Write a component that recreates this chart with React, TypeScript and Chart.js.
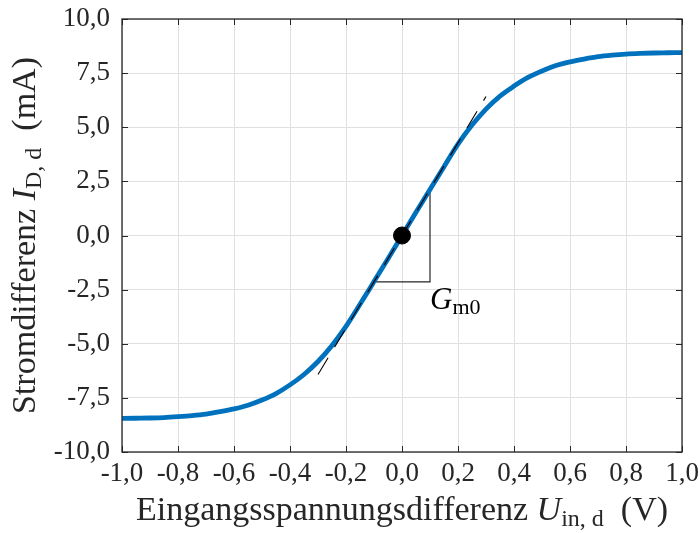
import React, { useEffect, useRef } from "react";
import { Chart, registerables } from "chart.js";

Chart.register(...registerables);

// Data
const U_IN = [
  -1.0, -0.95, -0.9, -0.85, -0.8, -0.75, -0.7, -0.65, -0.6, -0.55, -0.5, -0.45, -0.4, -0.35, -0.3, -0.25, -0.2, -0.15, -0.1, -0.05,
  0.0, 0.05, 0.1, 0.15, 0.2, 0.25, 0.3, 0.35, 0.4, 0.45, 0.5, 0.55, 0.6, 0.65, 0.7, 0.75, 0.8, 0.85, 0.9, 0.95, 1.0,
];
const I_D = [
  -8.45, -8.44, -8.43, -8.41, -8.37, -8.32, -8.25, -8.14, -8.01, -7.84, -7.6, -7.3, -6.9, -6.42, -5.82, -5.08, -4.2, -3.18, -2.13, -1.07,
  0.0, 1.07, 2.13, 3.18, 4.22, 5.1, 5.84, 6.44, 6.9, 7.3, 7.6, 7.85, 8.02, 8.15, 8.26, 8.33, 8.38, 8.41, 8.43, 8.44, 8.45,
];
const TANGENT_X = [-0.3, 0.3];
const TANGENT_Y = [-6.42, 6.42];
const TRIANGLE_X = [-0.1, 0.1, 0.1];
const TRIANGLE_Y = [-2.14, -2.14, 2.14];
const OP_POINT = { x: 0, y: 0 };
const GM_LABEL_POS = { x: 0.1, y: -3.3 };
const X_TICKS = [-1, -0.8, -0.6, -0.4, -0.2, 0, 0.2, 0.4, 0.6, 0.8, 1];
const Y_TICKS = [-10, -7.5, -5, -2.5, 0, 2.5, 5, 7.5, 10];

const SERIF = "'Liberation Serif', 'DejaVu Serif', serif";
const TEXT = "#262626";

const fmt = (v: number) => {
  const n = Math.abs(v) < 1e-9 ? 0 : v;
  return n.toFixed(1).replace(".", ",");
};

type Part = { text: string; font: string; dy?: number };

function drawRich(ctx: CanvasRenderingContext2D, parts: Part[], cx: number, by: number) {
  let total = 0;
  for (const p of parts) {
    ctx.font = p.font;
    total += ctx.measureText(p.text).width;
  }
  let x = cx - total / 2;
  ctx.textAlign = "left";
  ctx.textBaseline = "alphabetic";
  for (const p of parts) {
    ctx.font = p.font;
    ctx.fillText(p.text, x, by + (p.dy || 0));
    x += ctx.measureText(p.text).width;
  }
}

const decorPlugin = {
  id: "decor",
  afterDraw(chart: any) {
    const { ctx, chartArea: a, scales } = chart;
    const xs = scales.x;
    const ys = scales.y;
    ctx.save();
    // inward tick marks on all sides
    ctx.strokeStyle = TEXT;
    ctx.lineWidth = 1;
    ctx.beginPath();
    for (const v of X_TICKS) {
      const px = Math.round(xs.getPixelForValue(v)) + 0.5;
      ctx.moveTo(px, a.bottom);
      ctx.lineTo(px, a.bottom - 6);
      ctx.moveTo(px, a.top);
      ctx.lineTo(px, a.top + 6);
    }
    for (const v of Y_TICKS) {
      const py = Math.round(ys.getPixelForValue(v)) + 0.5;
      ctx.moveTo(a.left, py);
      ctx.lineTo(a.left + 6, py);
      ctx.moveTo(a.right, py);
      ctx.lineTo(a.right - 6, py);
    }
    ctx.stroke();
    // box
    ctx.lineWidth = 1.3;
    ctx.strokeRect(a.left, a.top, a.right - a.left, a.bottom - a.top);

    ctx.fillStyle = "#000";
    // G_m0 label
    const gx = xs.getPixelForValue(GM_LABEL_POS.x);
    const gy = ys.getPixelForValue(GM_LABEL_POS.y);
    ctx.textAlign = "left";
    ctx.textBaseline = "alphabetic";
    ctx.font = `italic 31px ${SERIF}`;
    ctx.fillText("G", gx, gy + 2);
    const gw = ctx.measureText("G").width;
    ctx.font = `22px ${SERIF}`;
    ctx.fillText("m0", gx + gw, gy + 7);

    // x title
    ctx.fillStyle = TEXT;
    const cx = (a.left + a.right) / 2;
    drawRich(
      ctx,
      [
        { text: "Eingangsspannungsdifferenz ", font: `34px ${SERIF}` },
        { text: "U", font: `italic 34px ${SERIF}` },
        { text: "in, d", font: `24px ${SERIF}`, dy: 6 },
        { text: "  (V)", font: `34px ${SERIF}` },
      ],
      cx,
      520
    );

    // y title
    const cy = (a.top + a.bottom) / 2;
    ctx.translate(35, cy);
    ctx.rotate(-Math.PI / 2);
    drawRich(
      ctx,
      [
        { text: "Stromdifferenz ", font: `34px ${SERIF}` },
        { text: "I", font: `italic 34px ${SERIF}` },
        { text: "D, d", font: `24px ${SERIF}`, dy: 6 },
        { text: "  (mA)", font: `34px ${SERIF}` },
      ],
      0,
      0
    );
    ctx.restore();
  },
};

export default function App() {
  const canvasRef = useRef<HTMLCanvasElement | null>(null);

  useEffect(() => {
    document.body.style.margin = "0";
    const canvas = canvasRef.current;
    if (!canvas) return;
    const curve = U_IN.map((x, i) => ({ x, y: I_D[i] }));
    const tangent = TANGENT_X.map((x, i) => ({ x, y: TANGENT_Y[i] }));
    const triangle = TRIANGLE_X.map((x, i) => ({ x, y: TRIANGLE_Y[i] }));

    const chart = new Chart(canvas, {
      type: "scatter",
      data: {
        datasets: [
          {
            label: "triangle",
            data: triangle,
            showLine: true,
            borderColor: "#262626",
            borderWidth: 1.2,
            pointRadius: 0,
            order: 4,
          },
          {
            label: "I_D,d",
            data: curve,
            showLine: true,
            borderColor: "#0072BD",
            borderWidth: 4.8,
            pointRadius: 0,
            cubicInterpolationMode: "monotone",
            order: 3,
          },
          {
            label: "tangent",
            data: tangent,
            showLine: true,
            borderColor: "#000000",
            borderWidth: 1.1,
            borderDash: [19.5, 12.5],
            pointRadius: 0,
            order: 2,
          },
          {
            label: "operating point",
            data: [OP_POINT],
            showLine: false,
            backgroundColor: "#000000",
            borderColor: "#000000",
            pointRadius: 8.5,
            order: 1,
          },
        ],
      },
      options: {
        responsive: false,
        maintainAspectRatio: false,
        animation: false,
        layout: { padding: { left: 0, right: 18, top: 19, bottom: 0 } },
        plugins: { legend: { display: false }, tooltip: { enabled: false } },
        scales: {
          x: {
            type: "linear",
            min: -1,
            max: 1,
            afterFit: (s: any) => {
              s.height = 81;
              s.paddingLeft = 0;
              s.paddingRight = 0;
            },
            afterBuildTicks: (s: any) => {
              s.ticks = X_TICKS.map((v) => ({ value: v }));
            },
            ticks: {
              callback: (v: any) => fmt(Number(v)),
              font: { family: SERIF, size: 27 },
              color: TEXT,
              padding: 6,
              maxRotation: 0,
              autoSkip: false,
            },
            grid: { color: "#e0e0e0", lineWidth: 1, drawTicks: false },
            border: { display: false },
          },
          y: {
            type: "linear",
            min: -10,
            max: 10,
            afterFit: (s: any) => {
              s.width = 122;
              s.paddingTop = 0;
              s.paddingBottom = 0;
            },
            afterBuildTicks: (s: any) => {
              s.ticks = Y_TICKS.map((v) => ({ value: v }));
            },
            ticks: {
              callback: (v: any) => fmt(Number(v)),
              font: { family: SERIF, size: 27 },
              color: TEXT,
              padding: 12,
              autoSkip: false,
            },
            grid: { color: "#e0e0e0", lineWidth: 1, drawTicks: false },
            border: { display: false },
          },
        },
      },
      plugins: [decorPlugin],
    });
    return () => chart.destroy();
  }, []);

  return (
    <div style={{ position: "absolute", left: 0, top: 0, width: 700, height: 533 }}>
      <canvas ref={canvasRef} width={700} height={533} style={{ width: 700, height: 533 }} />
    </div>
  );
}
